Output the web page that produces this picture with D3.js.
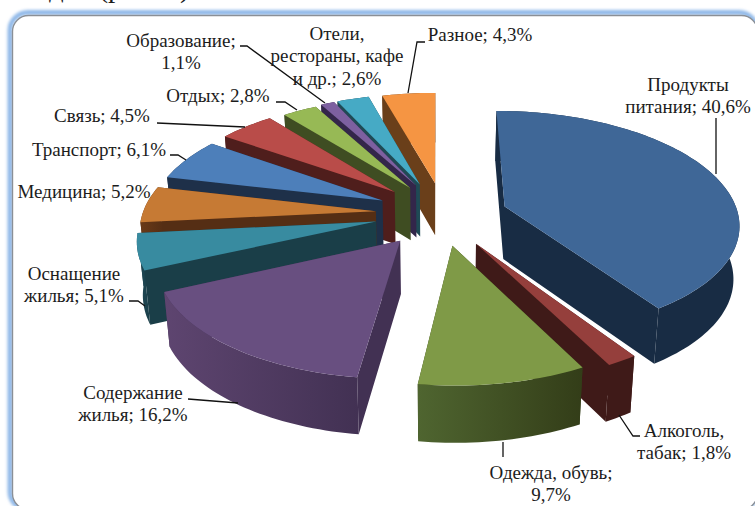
<!DOCTYPE html>
<html>
<head>
<meta charset="utf-8">
<script src="https://cdn.jsdelivr.net/npm/d3@7"></script>
<style>
  html, body { margin: 0; padding: 0; background: #fff; overflow: hidden; }
  text { font-family: "Liberation Serif", serif; fill: #1c1c1c; }
</style>
</head>
<body>
<svg width="755" height="506"></svg>
<script>
const svg = d3.select("svg");

// Data
const categories = ["Продукты питания", "Алкоголь, табак", "Одежда, обувь", "Содержание жилья",
  "Оснащение жилья", "Медицина", "Транспорт", "Связь", "Отдых", "Образование",
  "Отели, рестораны, кафе и др.", "Разное"];
const values = [40.6, 1.8, 9.7, 16.2, 5.1, 5.2, 6.1, 4.5, 2.8, 1.1, 2.6, 4.3];

// Slice look
const topColors = ["#3f6797", "#953f3c", "#7f9a47", "#684f80", "#388ba0", "#c67a34",
  "#4d7fba", "#b94c49", "#97b955", "#7d60a0", "#46aac5", "#f59543"];
const wallLeft = ["#182c44", "#3f1a18", "#4f6530", "#5e4570", "#1f4a58", "#6a3a18",
  "#1e3049", "#4f1e1c", "#3f4d22", "#33264a", "#1f4a55", "#6a3f1a"];
const wallRight = ["#182c44", "#3f1a18", "#333d18", "#423153", "#1a3e48", "#552e14",
  "#1e3049", "#4f1e1c", "#3f4d22", "#33264a", "#1f4a55", "#6a3f1a"];
// How far each slice is pulled out of the pie, on the pie's plane
const pullX = [69, 38, 15, -36, -61, -62, -56, -44, -28, -22, -18, -2];
const pullY = [-35, 42, 46, 36, -3, -25, -48, -67, -76, -82, -84, -87];

// Projection of the tilted pie
const cx = 437, cy = 223, R = 236, tilt = 0.48, persp = 0.14, depth = 53;

function project(x, y, z) {
  const s = 1 / (1 - persp * y / R);
  return [cx + x * s * (1 - 0.02 * z), cy + tilt * y * s + depth * z * (0.6 + 0.4 * s)];
}

const arcs = d3.pie().sort(null).value(d => d)(values);
const line = d3.line();

arcs.forEach((a, i) => {
  a.index = i;
  a.mid = (a.startAngle + a.endAngle) / 2;
  a.ox = pullX[i];
  a.oy = pullY[i];
});

function rim(a, z) {
  const n = Math.max(4, Math.ceil((a.endAngle - a.startAngle) * 40));
  return d3.range(n + 1).map(k => {
    const t = a.startAngle + (a.endAngle - a.startAngle) * k / n;
    return project(a.ox + R * Math.sin(t), a.oy - R * Math.cos(t), z);
  });
}

const defs = svg.append("defs");
defs.append("filter").attr("id", "soft").attr("x", "-5%").attr("y", "-5%").attr("width", "110%").attr("height", "110%")
  .append("feGaussianBlur").attr("stdDeviation", 1.5);
defs.selectAll("linearGradient.wall").data(arcs).join("linearGradient")
  .attr("class", "wall").attr("id", d => "wall" + d.index)
  .selectAll("stop").data(d => [[0, wallLeft[d.index]], [1, wallRight[d.index]]]).join("stop")
  .attr("offset", d => d[0]).attr("stop-color", d => d[1]);

// Heading cut by the crop
svg.append("text").attr("x", 49).attr("y", -3).attr("font-size", 29).text("дах (рис. 1)");

// Frame
svg.append("rect").attr("x", 10).attr("y", 12.5).attr("width", 747).attr("height", 497).attr("rx", 18)
  .attr("fill", "none").attr("stroke", "#8fb8e8").attr("stroke-width", 5).attr("filter", "url(#soft)");
svg.append("rect").attr("x", 12.5).attr("y", 15.5).attr("width", 745).attr("height", 494).attr("rx", 16)
  .attr("fill", "#fff").attr("stroke", "#8a8f96").attr("stroke-width", 1.4);

// Far slices first
const ordered = arcs.slice().sort((a, b) => (a.oy - R * Math.cos(a.mid)) - (b.oy - R * Math.cos(b.mid)));
const slice = svg.append("g").selectAll("g").data(ordered).join("g");

// Cut faces
slice.append("path")
  .attr("fill", d => wallRight[d.index])
  .attr("d", d => {
    const c0 = project(d.ox, d.oy, 0), c1 = project(d.ox, d.oy, 1);
    const t = rim(d, 0), b = rim(d, 1);
    return line([t[0], c0, c1, b[0]]) + "Z" + line([t[t.length - 1], c0, c1, b[b.length - 1]]) + "Z";
  });
// Outer wall
slice.append("path")
  .attr("fill", d => `url(#wall${d.index})`)
  .attr("d", d => line(rim(d, 0).concat(rim(d, 1).reverse())) + "Z");
// Top
slice.append("path")
  .attr("fill", d => topColors[d.index])
  .attr("d", d => line([project(d.ox, d.oy, 0)].concat(rim(d, 0))) + "Z");

// Leader lines and labels, in page pixels
const leaders = [
  [[716, 118], [716, 174]],
  [[619, 415], [633, 436], [640, 436]],
  [[503, 442], [503, 457]],
  [[188, 399], [238, 403]],
  [[129, 301], [138, 301], [145, 306]],
  [[170, 155], [178, 155], [186, 160]],
  [[157, 123], [245, 127]],
  [[276, 102], [285, 102], [297, 110]],
  [[240, 46], [247, 46], [325, 103]],
  [[425, 42], [417, 42], [408, 93]]
];
svg.append("g").selectAll("path").data(leaders).join("path")
  .attr("d", d => line(d)).attr("fill", "none").attr("stroke", "#111").attr("stroke-width", 1.3);

const labels = [
  [688, 91, "Продукты"], [688, 113, "питания; 40,6%"],
  [684, 437, "Алкоголь,"], [684, 459, "табак; 1,8%"],
  [551, 479, "Одежда, обувь;"], [551, 501, "9,7%"],
  [133, 399, "Содержание"], [133, 421, "жилья; 16,2%"],
  [74, 280, "Оснащение"], [74, 302, "жилья; 5,1%"],
  [84, 198, "Медицина; 5,2%"],
  [99, 156, "Транспорт; 6,1%"],
  [102, 122, "Связь; 4,5%"],
  [218, 102, "Отдых; 2,8%"],
  [181, 47, "Образование;"], [181, 69, "1,1%"],
  [337, 40, "Отели,"], [337, 62, "рестораны, кафе"], [337, 85, "и др.; 2,6%"],
  [480, 41, "Разное; 4,3%"]
];
svg.append("g").selectAll("text").data(labels).join("text")
  .attr("x", d => d[0]).attr("y", d => d[1])
  .attr("text-anchor", "middle").attr("font-size", 19)
  .text(d => d[2]);
</script>
</body>
</html>
